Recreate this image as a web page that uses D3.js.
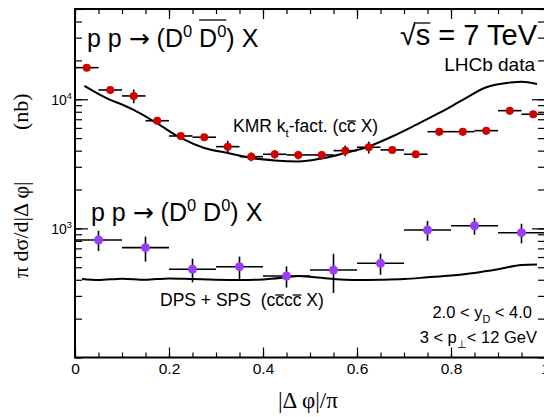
<!DOCTYPE html>
<html>
<head>
<meta charset="utf-8">
<script src="https://cdn.jsdelivr.net/npm/d3@7"></script>
<style>
  body { margin: 0; background: #fff; }
  svg { display: block; }
  text { font-family: "Liberation Sans", Arial, sans-serif; fill: #000; white-space: pre; }
  .serif { font-family: "Liberation Serif", "Times New Roman", serif; }
</style>
</head>
<body>
<svg class="chart" width="544" height="417"></svg>
<script>
/* LHCb D0 D0bar (red), bins of 0.05 */
var redX = [0.025, 0.075, 0.125, 0.175, 0.225, 0.275, 0.325, 0.375, 0.425, 0.475,
            0.525, 0.575, 0.625, 0.675, 0.725, 0.775, 0.825, 0.875, 0.925, 0.975];
var redVals = [17570, 11800, 10610, 6820, 5195, 5080, 4295, 3593, 3750, 3704,
               3704, 4000, 4249, 4050, 3750, 5610, 5610, 5713, 8160, 7650];
var redErr = [450, 350, 1300, 400, 280, 280, 470, 280, 280, 280,
              230, 380, 450, 230, 230, 380, 380, 380, 550, 470];
var redHalf = 0.025;

/* LHCb D0 D0 (violet), bins of 0.1 */
var violetX = [0.05, 0.15, 0.25, 0.35, 0.45, 0.55, 0.65, 0.75, 0.85, 0.95];
var violetVals = [813, 709, 482, 505, 428, 476, 537, 972, 1049, 926];
var violetErr = [145, 155, 100, 100, 80, 160, 100, 170, 155, 160];
var violetHalf = 0.05;

/* KMR kt-factorization curve */
var kmrX = [0.02, 0.075, 0.1, 0.125, 0.175, 0.225, 0.275, 0.325, 0.375, 0.425, 0.475,
            0.525, 0.575, 0.625, 0.675, 0.725, 0.775, 0.825, 0.875, 0.925, 0.95, 0.983];
var kmrY = [12680, 9880, 9110, 8260, 6495, 5015, 4196, 3838, 3510, 3357, 3298,
            3478, 3838, 4310, 5150, 6323, 7830, 9880, 12375, 13450, 13690, 13140];

/* DPS + SPS curve */
var dpsX = [0.015, 0.05, 0.1, 0.15, 0.2, 0.25, 0.3, 0.35, 0.4, 0.45, 0.475,
            0.5, 0.55, 0.6, 0.65, 0.7, 0.75, 0.8, 0.85, 0.9, 0.95, 0.983];
var dpsY = [405, 398, 408, 400, 410, 405, 400, 398, 402, 418, 428,
            422, 405, 398, 400, 405, 418, 432, 452, 482, 520, 525];

var xTicks = [0, 0.2, 0.4, 0.6, 0.8, 1];
var xTickLabels = ['0', '0.2', '0.4', '0.6', '0.8', '1'];
var yLabelTicks = [1000, 10000];
var yLabelExp = ['3', '4'];

var mLeft = 75, mRight = 545, mTop = 9, mBottom = 357.5;

var svg = d3.select('.chart');

/* Scales */
var x = d3.scaleLinear().domain([0, 1]).range([mLeft, mRight]);
var y = d3.scaleLog().domain([100, 50000]).range([mBottom, mTop]);

/* text with sup / sub parts */
function richText(px, py, size, parts, anchor, cls) {
  var t = svg.append('text')
    .attr('x', px).attr('y', py)
    .attr('text-anchor', anchor || 'start')
    .style('font-size', size + 'px');
  if (cls) t.attr('class', cls);
  var shift = 0;
  parts.forEach(function (p) {
    var s = p.sup ? -0.42 * size : (p.sub ? 0.28 * size : 0);
    t.append('tspan')
      .attr('dy', s - shift)
      .style('font-size', (p.sup || p.sub) ? (0.66 * size) + 'px' : null)
      .style('font-family', p.font || null)
      .text(p.t);
    shift = s;
  });
  return t;
}

/* bar above some characters of a text */
function overline(t, from, to, py) {
  var n = t.node();
  var a = n.getExtentOfChar(from), b = n.getExtentOfChar(to);
  svg.append('line')
    .attr('x1', a.x).attr('x2', b.x + b.width)
    .attr('y1', py).attr('y2', py)
    .attr('stroke', '#000').attr('stroke-width', 1.3);
}

/* Curves */
var line = d3.line()
  .x(function (d) { return x(d[0]); })
  .y(function (d) { return y(d[1]); })
  .curve(d3.curveMonotoneX);

svg.append('path')
  .datum(d3.zip(kmrX, kmrY))
  .attr('d', line)
  .attr('fill', 'none').attr('stroke', '#000').attr('stroke-width', 2);

svg.append('path')
  .datum(d3.zip(dpsX, dpsY))
  .attr('d', line)
  .attr('fill', 'none').attr('stroke', '#000').attr('stroke-width', 2);

/* Data points with error bars */
function drawPoints(xs, vals, errs, half, color, r) {
  var pts = d3.zip(xs, vals, errs);
  var g = svg.append('g');
  g.selectAll('line.h').data(pts).join('line')
    .attr('x1', function (d) { return x(d[0] - half); })
    .attr('x2', function (d) { return x(d[0] + half); })
    .attr('y1', function (d) { return y(d[1]); })
    .attr('y2', function (d) { return y(d[1]); })
    .attr('stroke', '#000').attr('stroke-width', 1.6);
  g.selectAll('line.v').data(pts).join('line')
    .attr('x1', function (d) { return x(d[0]); })
    .attr('x2', function (d) { return x(d[0]); })
    .attr('y1', function (d) { return y(d[1] - d[2]); })
    .attr('y2', function (d) { return y(d[1] + d[2]); })
    .attr('stroke', '#000').attr('stroke-width', 1.6);
  g.selectAll('circle').data(pts).join('circle')
    .attr('cx', function (d) { return x(d[0]); })
    .attr('cy', function (d) { return y(d[1]); })
    .attr('r', r)
    .attr('fill', color);
}

drawPoints(redX, redVals, redErr, redHalf, '#d40000', 4);
drawPoints(violetX, violetVals, violetErr, violetHalf, '#9b3cf7', 4.5);

/* Axes: ticks point inwards */
function cleanAxis(g) {
  g.select('.domain').remove();
  g.selectAll('.tick line').attr('stroke', '#000').attr('stroke-width', 1.2);
}

var minorX = x.ticks(20);
var yMinor = y.ticks();

svg.append('g').attr('transform', 'translate(0,' + mBottom + ')')
  .call(d3.axisBottom(x).tickValues(minorX).tickSize(-5).tickFormat('')).call(cleanAxis);
svg.append('g').attr('transform', 'translate(0,' + mBottom + ')')
  .call(d3.axisBottom(x).tickValues(xTicks).tickSize(-10).tickPadding(5)
    .tickFormat(function (d, i) { return xTickLabels[i]; }))
  .call(cleanAxis)
  .selectAll('text').style('font-size', '15.5px').style('font-family', '"Liberation Sans", Arial, sans-serif');

svg.append('g').attr('transform', 'translate(0,' + mTop + ')')
  .call(d3.axisTop(x).tickValues(minorX).tickSize(-5).tickFormat('')).call(cleanAxis);
svg.append('g').attr('transform', 'translate(0,' + mTop + ')')
  .call(d3.axisTop(x).tickValues(xTicks).tickSize(-10).tickFormat('')).call(cleanAxis);

svg.append('g').attr('transform', 'translate(' + mLeft + ',0)')
  .call(d3.axisLeft(y).tickValues(yMinor).tickSize(-7).tickFormat('')).call(cleanAxis);
svg.append('g').attr('transform', 'translate(' + mLeft + ',0)')
  .call(d3.axisLeft(y).tickValues(yLabelTicks).tickSize(-13).tickFormat('')).call(cleanAxis);
svg.append('g').attr('transform', 'translate(' + mRight + ',0)')
  .call(d3.axisRight(y).tickValues(yMinor).tickSize(-7).tickFormat('')).call(cleanAxis);
svg.append('g').attr('transform', 'translate(' + mRight + ',0)')
  .call(d3.axisRight(y).tickValues(yLabelTicks).tickSize(-13).tickFormat('')).call(cleanAxis);

yLabelTicks.forEach(function (v, i) {
  richText(72, y(v) + 6, 14, [{ t: '10' }, { t: yLabelExp[i], sup: true }], 'end');
});

/* Frame */
svg.append('rect')
  .attr('x', mLeft).attr('y', mTop)
  .attr('width', mRight - mLeft).attr('height', mBottom - mTop)
  .attr('fill', 'none').attr('stroke', '#000').attr('stroke-width', 2);

/* Axis titles */
svg.append('text').attr('class', 'serif')
  .attr('x', 278).attr('y', 408)
  .style('font-size', '23px')
  .text('|\u0394 \u03c6|/\u03c0');

svg.append('text').attr('class', 'serif')
  .attr('transform', 'translate(28,278) rotate(-90)')
  .style('font-size', '22px')
  .text('\u03c0 d\u03c3/d|\u0394 \u03c6|');
svg.append('text').attr('class', 'serif')
  .attr('transform', 'translate(28,130) rotate(-90)')
  .style('font-size', '22px')
  .text('(nb)');

/* Labels */
var arrowFont = '"DejaVu Sans", sans-serif';
var t1 = richText(87, 47, 25, [
  { t: 'p p ' }, { t: '\u2192', font: arrowFont }, { t: ' (D' }, { t: '0', sup: true },
  { t: ' D' }, { t: '0', sup: true }, { t: ') X' }
]);
overline(t1, 10, 11, 20);

richText(91, 221, 25, [
  { t: 'p p ' }, { t: '\u2192', font: arrowFont }, { t: ' (D' }, { t: '0', sup: true },
  { t: ' D' }, { t: '0', sup: true }, { t: ') X' }
]);

var t3 = richText(537, 45, 29, [{ t: '\u221as = 7 TeV' }], 'end');
overline(t3, 1, 1, 23);

richText(535, 71, 19, [{ t: 'LHCb data' }], 'end');

var t5 = richText(233, 132, 17.5, [
  { t: 'KMR k' }, { t: 't', sub: true }, { t: '-fact. (cc X)' }
]);
overline(t5, 15, 15, 121);

var t6 = richText(160, 306, 17.5, [{ t: 'DPS + SPS  (cccc X)' }]);
overline(t6, 13, 13, 295);
overline(t6, 15, 15, 295);

richText(532, 318, 16.5, [{ t: '2.0 < y' }, { t: 'D', sub: true }, { t: ' < 4.0' }], 'end');
richText(537, 343, 16.5, [{ t: '3 < p' }, { t: '\u22a5', sub: true }, { t: '< 12 GeV' }], 'end');
</script>
</body>
</html>
